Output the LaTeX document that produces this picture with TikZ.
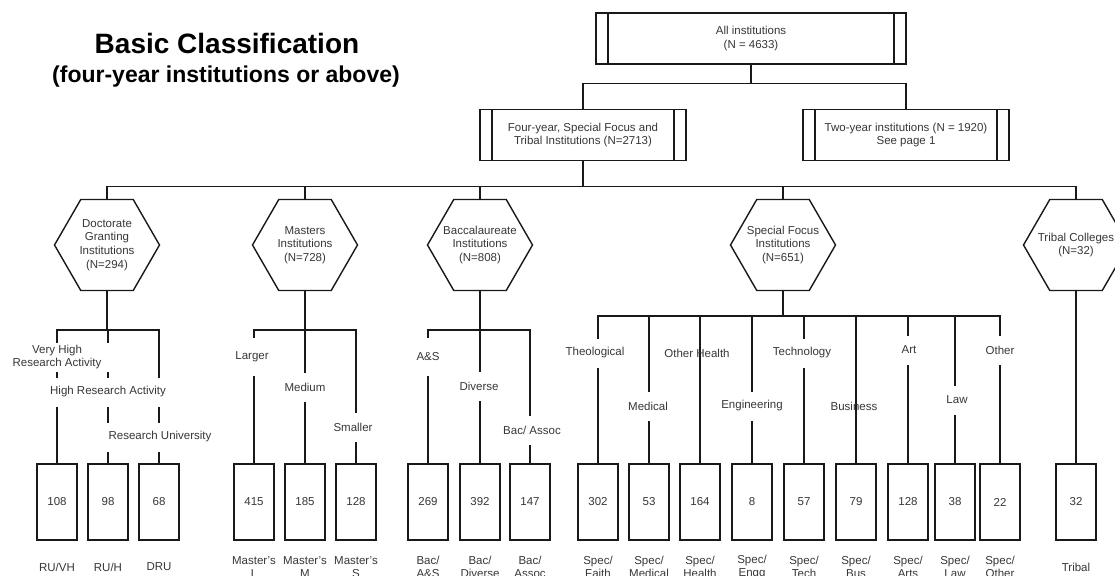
\documentclass[tikz,border=0pt]{standalone}
\usepackage{fontspec}
\setmainfont{Liberation Sans}
\usetikzlibrary{shapes.geometric}
\definecolor{ink}{RGB}{25,25,25}
\definecolor{txt}{RGB}{55,55,55}
\tikzset{
 link/.style={ink,line width=1.4pt},
 bar/.style={draw=ink,line width=1.4pt,minimum height=51pt,inner sep=0pt,align=center,
  path picture={
   \draw[ink,line width=1.4pt] ([xshift=12pt]path picture bounding box.north west) -- ([xshift=12pt]path picture bounding box.south west);
   \draw[ink,line width=1.4pt] ([xshift=-12pt]path picture bounding box.north east) -- ([xshift=-12pt]path picture bounding box.south east);}},
 hexa/.style={draw=ink,line width=1.4pt,regular polygon,regular polygon sides=6,minimum size=105pt,inner sep=-14pt,align=center,
  font=\fontsize{11.5}{13.6}\selectfont},
 cnt/.style={draw=ink,line width=1.4pt,minimum width=40pt,minimum height=76pt,inner sep=0pt},
 lbl/.style={fill=white,inner xsep=2pt,inner ysep=2pt,minimum height=29pt,align=center},
 lbltxt/.style={inner sep=0pt,align=center},
 tag/.style={inner sep=0pt,align=center},
}
\begin{document}
\begin{tikzpicture}[x=1pt,y=-1pt,font=\fontsize{11.5}{13.2}\selectfont,every node/.append style={text=txt}]
 \fill[white] (0,0) rectangle (1115,575);
 \clip (0,0) rectangle (1115,575);

 \node[anchor=base,text=black,font=\fontsize{28}{32}\selectfont\bfseries] (title) at (227,54) {Basic Classification};
 \node[anchor=base,text=black,font=\fontsize{23}{28}\selectfont\bfseries] (subtitle) at (226,83) {(four-year institutions or above)};

 \node[bar,minimum width=310pt] (all) at (751,38.5) {All institutions\\(N = 4633)};
 \node[bar,minimum width=206pt] (four) at (583,135) {Four-year, Special Focus and\\Tribal Institutions (N=2713)};
 \node[bar,minimum width=206pt] (two) at (906,135) {Two-year institutions (N = 1920)\\See page 1};

 \node[hexa] (doc) at (107,245) {Doctorate\\Granting\\Institutions\\(N=294)};
 \node[hexa] (mas) at (305,245) {Masters\\Institutions\\(N=728)};
 \node[hexa] (bac) at (480,245) {Baccalaureate\\Institutions\\(N=808)};
 \node[hexa] (sf) at (783,245) {Special Focus\\Institutions\\(N=651)};
 \node[hexa] (tri) at (1076,245) {Tribal Colleges\\(N=32)};

 \node[cnt] (ruvh) at (57,502) {108};
 \node[cnt] (ruh) at (108,502) {98};
 \node[cnt] (dru) at (159,502) {68};
 \node[cnt] (masl) at (254,502) {415};
 \node[cnt] (masm) at (305,502) {185};
 \node[cnt] (mass) at (356,502) {128};
 \node[cnt] (bacas) at (428,502) {269};
 \node[cnt] (bacdiv) at (480,502) {392};
 \node[cnt] (bacasc) at (530,502) {147};
 \node[cnt] (spfaith) at (598,502) {302};
 \node[cnt] (spmed) at (649,502) {53};
 \node[cnt] (sphealth) at (700,502) {164};
 \node[cnt] (spengg) at (752,502) {8};
 \node[cnt] (sptech) at (804,502) {57};
 \node[cnt] (spbus) at (856,502) {79};
 \node[cnt] (sparts) at (908,502) {128};
 \node[cnt] (splaw) at (955,502) {38};
 \node[cnt] (spother) at (1000,502) {22};
 \node[cnt] (tribal) at (1076,502) {32};

 \node[tag] (truvh) at (57,567) {RU/VH};
 \node[tag] (truh) at (108,567) {RU/H};
 \node[tag] (tdru) at (159,567) {DRU};
 \node[tag] (tmasl) at (254,567) {Master's\\L};
 \node[tag] (tmasm) at (305,567) {Master's\\M};
 \node[tag] (tmass) at (356,567) {Master's\\S};
 \node[tag] (tbacas) at (428,567) {Bac/\\A\&S};
 \node[tag] (tbacdiv) at (480,567) {Bac/\\Diverse};
 \node[tag] (tbacasc) at (530,567) {Bac/\\Assoc};
 \node[tag] (tspfaith) at (598,567) {Spec/\\Faith};
 \node[tag] (tspmed) at (649,567) {Spec/\\Medical};
 \node[tag] (tsphealth) at (700,567) {Spec/\\Health};
 \node[tag] (tspengg) at (752,567) {Spec/\\Engg};
 \node[tag] (tsptech) at (804,567) {Spec/\\Tech};
 \node[tag] (tspbus) at (856,567) {Spec/\\Bus};
 \node[tag] (tsparts) at (908,567) {Spec/\\Arts};
 \node[tag] (tsplaw) at (955,567) {Spec/\\Law};
 \node[tag] (tspother) at (1000,567) {Spec/\\Other};
 \node[tag] (ttribal) at (1076,567) {Tribal};

 \coordinate (j0) at ([yshift=-19pt]all.south);
 \draw[link] (all.south) -- (j0);
 \draw[link] (four.north) |- (j0) -| (two.north);
 \coordinate (j1) at ([yshift=-25pt]four.south);
 \draw[link] (four.south) -- (j1);
 \draw[link] (doc.north) |- (j1) -| (tri.north);
 \draw[link] (mas.north) -- (mas.north |- j1);
 \draw[link] (bac.north) -- (bac.north |- j1);
 \draw[link] (sf.north) -- (sf.north |- j1);

 \coordinate (jd) at ([yshift=-39pt]doc.south);
 \draw[link] (doc.south) -- (jd);
 \draw[link] (ruvh.north) |- (jd) -| (dru.north);
 \draw[link] (ruh.north) -- (ruh.north |- jd);
 \coordinate (jm) at ([yshift=-39pt]mas.south);
 \draw[link] (mas.south) -- (jm);
 \draw[link] (masl.north) |- (jm) -| (mass.north);
 \draw[link] (masm.north) -- (masm.north |- jm);
 \coordinate (jb) at ([yshift=-39pt]bac.south);
 \draw[link] (bac.south) -- (jb);
 \draw[link] (bacas.north) |- (jb) -| (bacasc.north);
 \draw[link] (bacdiv.north) -- (bacdiv.north |- jb);
 \coordinate (js) at ([yshift=-25pt]sf.south);
 \draw[link] (sf.south) -- (js);
 \draw[link] (spfaith.north) |- (js) -| (spother.north);
 \draw[link] (spmed.north) -- (spmed.north |- js);
 \draw[link] (sphealth.north) -- (sphealth.north |- js);
 \draw[link] (spengg.north) -- (spengg.north |- js);
 \draw[link] (sptech.north) -- (sptech.north |- js);
 \draw[link] (spbus.north) -- (spbus.north |- js);
 \draw[link] (sparts.north) -- (sparts.north |- js);
 \draw[link] (splaw.north) -- (splaw.north |- js);
 \draw[link] (tribal.north) -- (tribal.north |- tri.south);

 \node[lbl,minimum width=110pt] (lvh) at (57,357) {Very High\\Research Activity};
 \node[lbl] (lhr) at (108,392) {High Research Activity};
 \node[lbl] (lru) at (160,437) {Research University};
 \node[lbl,minimum height=38pt] (llg) at (252,357) {Larger};
 \node[lbl] (lmd) at (305,387) {Medium};
 \node[lbl] (lsm) at (353,427) {Smaller};
 \node[lbl,minimum height=38pt] (las) at (428,357) {A\&S};
 \node[lbl] (ldv) at (479,386) {Diverse};
 \node[lbl] (lba) at (532,430) {Bac/ Assoc};
 \node[lbl] (lth) at (595,353) {Theological};
 \node[lbl] (lmc) at (648,406) {Medical};
 \node[lbltxt] (loh) at (697,353) {Other Health};
 \node[lbl] (len) at (752,406) {Engineering};
 \node[lbl] (ltc) at (802,353) {Technology};
 \node[lbltxt] (lbs) at (854,406) {Business};
 \node[lbl] (lar) at (909,350) {Art};
 \node[lbl] (llw) at (957,400) {Law};
 \node[lbl] (lot) at (1000,350) {Other};
\end{tikzpicture}
\end{document}
